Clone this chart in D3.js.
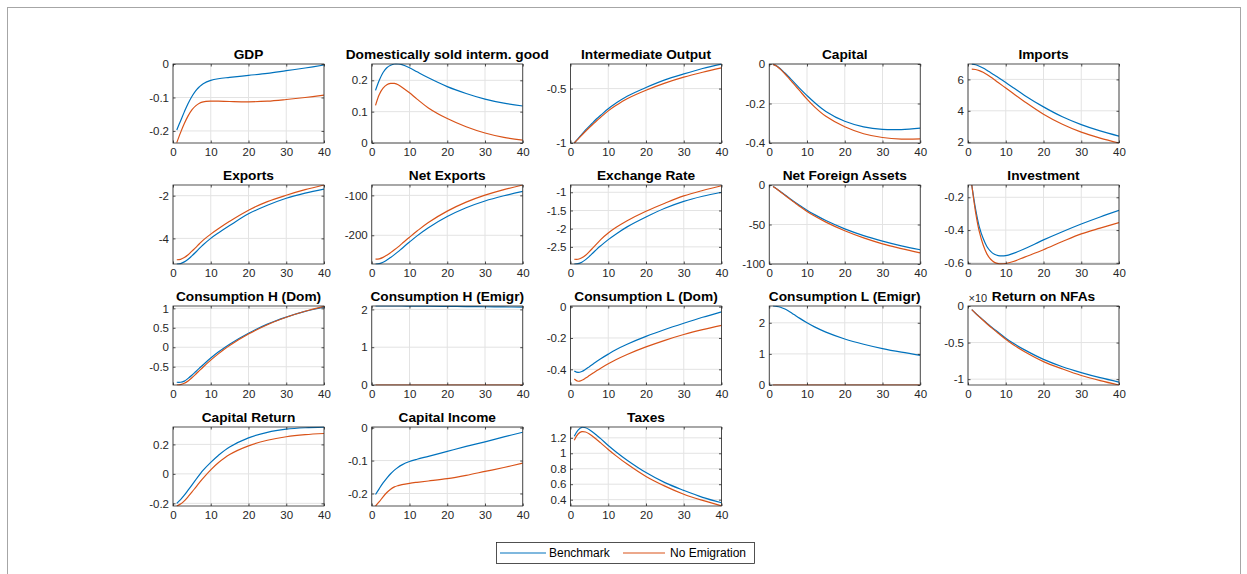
<!DOCTYPE html>
<html>
<head>
<meta charset="utf-8">
<script src="https://cdn.jsdelivr.net/npm/d3@7"></script>
<style>
  html, body { margin: 0; padding: 0; background: #fff; }
  svg { display: block; font-family: "Liberation Sans", Arial, Helvetica, sans-serif; }
</style>
</head>
<body>
<svg id="chart" width="1247" height="574"></svg>
<script>
// Impulse responses over 40 quarters: benchmark vs. no-emigration scenario
const periods = [1, 2, 3, 4, 5, 6, 7, 8, 10, 12, 15, 20, 25, 30, 35, 40];
const xTicks = [0, 10, 20, 30, 40];
const seriesNames = ["Benchmark", "No Emigration"];

const titles = [
  "GDP", "Domestically sold interm. good", "Intermediate Output", "Capital", "Imports",
  "Exports", "Net Exports", "Exchange Rate", "Net Foreign Assets", "Investment",
  "Consumption H (Dom)", "Consumption H (Emigr)", "Consumption L (Dom)", "Consumption L (Emigr)", "Return on NFAs",
  "Capital Return", "Capital Income", "Taxes"
];

const gdpBench   = [-0.197, -0.17, -0.143, -0.118, -0.097, -0.08, -0.068, -0.059, -0.049, -0.044, -0.04, -0.034, -0.028, -0.02, -0.012, -0.003];
const gdpNoEmig  = [-0.235, -0.205, -0.178, -0.155, -0.137, -0.125, -0.117, -0.113, -0.111, -0.111, -0.112, -0.113, -0.111, -0.106, -0.1, -0.093];
const dsigBench  = [0.168, 0.2, 0.225, 0.24, 0.248, 0.252, 0.252, 0.25, 0.24, 0.227, 0.208, 0.18, 0.158, 0.14, 0.127, 0.118];
const dsigNoEmig = [0.12, 0.155, 0.175, 0.186, 0.19, 0.19, 0.186, 0.178, 0.16, 0.14, 0.112, 0.078, 0.052, 0.032, 0.018, 0.009];
const ioBench    = [-1.0, -0.96, -0.92, -0.88, -0.845, -0.81, -0.775, -0.745, -0.685, -0.635, -0.57, -0.49, -0.42, -0.365, -0.315, -0.275];
const ioNoEmig   = [-1.0, -0.965, -0.928, -0.892, -0.858, -0.825, -0.793, -0.763, -0.705, -0.656, -0.593, -0.515, -0.45, -0.395, -0.35, -0.31];
const capBench   = [-0.002, -0.01, -0.025, -0.043, -0.062, -0.082, -0.102, -0.122, -0.16, -0.195, -0.24, -0.29, -0.318, -0.331, -0.332, -0.325];
const capNoEmig  = [-0.002, -0.011, -0.027, -0.047, -0.068, -0.09, -0.112, -0.134, -0.178, -0.217, -0.265, -0.318, -0.353, -0.372, -0.38, -0.379];
const impBench   = [6.97, 6.93, 6.84, 6.72, 6.58, 6.43, 6.28, 6.12, 5.8, 5.47, 4.98, 4.25, 3.62, 3.12, 2.72, 2.39];
const impNoEmig  = [6.65, 6.63, 6.56, 6.45, 6.31, 6.15, 5.98, 5.8, 5.45, 5.1, 4.58, 3.78, 3.14, 2.64, 2.26, 1.95];

const expBench   = [-5.2, -5.18, -5.1, -4.98, -4.82, -4.65, -4.47, -4.3, -4.0, -3.75, -3.4, -2.85, -2.45, -2.12, -1.88, -1.69];
const expNoEmig  = [-5.0, -4.98, -4.9, -4.77, -4.6, -4.43, -4.25, -4.08, -3.8, -3.55, -3.2, -2.68, -2.28, -1.98, -1.72, -1.5];
const nxBench    = [-272, -271, -267.5, -262, -255.5, -248.5, -241, -233, -217, -201.5, -181, -153, -131, -114, -101, -90];
const nxNoEmig   = [-260, -259, -255.5, -250, -243.5, -236.5, -229, -221, -205, -189.5, -168, -139.5, -117, -99.5, -85.5, -74];
const erBench    = [-2.97, -2.96, -2.92, -2.85, -2.76, -2.66, -2.56, -2.47, -2.3, -2.15, -1.95, -1.68, -1.44, -1.25, -1.11, -1.0];
const erNoEmig   = [-2.84, -2.84, -2.8, -2.73, -2.63, -2.52, -2.41, -2.3, -2.12, -1.97, -1.78, -1.52, -1.3, -1.1, -0.95, -0.82];
const nfaBench   = [-2, -5, -8.5, -12, -15.5, -19, -22.5, -25.5, -32, -37.5, -45, -55.5, -64, -71, -77, -82];
const nfaNoEmig  = [-2, -5.2, -8.8, -12.5, -16.2, -19.8, -23.4, -26.8, -33.5, -39.3, -47, -58, -67, -74.5, -80.5, -86];
const invBench   = [-0.125, -0.27, -0.38, -0.45, -0.5, -0.53, -0.548, -0.556, -0.556, -0.542, -0.514, -0.46, -0.41, -0.363, -0.32, -0.28];
const invNoEmig  = [-0.125, -0.29, -0.41, -0.49, -0.545, -0.578, -0.597, -0.605, -0.604, -0.592, -0.565, -0.52, -0.47, -0.423, -0.388, -0.355];

const chdBench   = [-0.9, -0.9, -0.87, -0.8, -0.72, -0.63, -0.538, -0.448, -0.278, -0.124, 0.08, 0.36, 0.595, 0.775, 0.92, 1.03];
const chdNoEmig  = [-0.97, -0.96, -0.925, -0.865, -0.785, -0.695, -0.6, -0.506, -0.33, -0.17, 0.045, 0.34, 0.58, 0.77, 0.925, 1.05];
const cheBench   = [2.09, 2.09, 2.09, 2.09, 2.09, 2.09, 2.09, 2.09, 2.088, 2.087, 2.085, 2.08, 2.075, 2.07, 2.065, 2.06];
const cheNoEmig  = [0, 0, 0, 0, 0, 0, 0, 0, 0, 0, 0, 0, 0, 0, 0, 0];
const cldBench   = [-0.41, -0.42, -0.414, -0.4, -0.383, -0.366, -0.349, -0.333, -0.303, -0.275, -0.24, -0.19, -0.146, -0.106, -0.068, -0.033];
const cldNoEmig  = [-0.462, -0.476, -0.47, -0.456, -0.44, -0.424, -0.408, -0.393, -0.365, -0.339, -0.305, -0.257, -0.215, -0.178, -0.147, -0.12];
const cleBench   = [2.54, 2.53, 2.5, 2.45, 2.385, 2.31, 2.23, 2.15, 2.0, 1.868, 1.7, 1.48, 1.31, 1.17, 1.055, 0.955];
const cleNoEmig  = [0, 0, 0, 0, 0, 0, 0, 0, 0, 0, 0, 0, 0, 0, 0, 0];
const rnfaBench  = [-0.05, -0.1, -0.145, -0.19, -0.235, -0.28, -0.32, -0.36, -0.44, -0.51, -0.6, -0.73, -0.83, -0.91, -0.98, -1.04];
const rnfaNoEmig = [-0.05, -0.1, -0.148, -0.195, -0.242, -0.288, -0.33, -0.372, -0.455, -0.53, -0.625, -0.76, -0.86, -0.95, -1.02, -1.08];

const crBench    = [-0.2, -0.175, -0.145, -0.111, -0.076, -0.041, -0.007, 0.025, 0.078, 0.125, 0.182, 0.244, 0.282, 0.303, 0.313, 0.317];
const crNoEmig   = [-0.218, -0.205, -0.183, -0.155, -0.124, -0.092, -0.06, -0.029, 0.027, 0.075, 0.131, 0.19, 0.228, 0.252, 0.266, 0.274];
const ciBench    = [-0.203, -0.185, -0.168, -0.153, -0.14, -0.129, -0.12, -0.113, -0.103, -0.096, -0.087, -0.072, -0.057, -0.043, -0.028, -0.014];
const ciNoEmig   = [-0.238, -0.225, -0.21, -0.197, -0.187, -0.18, -0.176, -0.173, -0.169, -0.166, -0.162, -0.155, -0.145, -0.133, -0.121, -0.108];
const taxBench   = [1.22, 1.3, 1.335, 1.33, 1.305, 1.27, 1.23, 1.19, 1.1, 1.02, 0.91, 0.75, 0.62, 0.52, 0.43, 0.36];
const taxNoEmig  = [1.17, 1.25, 1.28, 1.275, 1.25, 1.215, 1.175, 1.135, 1.05, 0.97, 0.86, 0.7, 0.575, 0.47, 0.39, 0.32];

const benchSeries = [gdpBench, dsigBench, ioBench, capBench, impBench, expBench, nxBench, erBench, nfaBench, invBench,
  chdBench, cheBench, cldBench, cleBench, rnfaBench, crBench, ciBench, taxBench];
const noEmigSeries = [gdpNoEmig, dsigNoEmig, ioNoEmig, capNoEmig, impNoEmig, expNoEmig, nxNoEmig, erNoEmig, nfaNoEmig, invNoEmig,
  chdNoEmig, cheNoEmig, cldNoEmig, cleNoEmig, rnfaNoEmig, crNoEmig, ciNoEmig, taxNoEmig];

const yLimits = [
  [-0.236, 0], [0, 0.252], [-1, -0.274], [-0.4, 0], [1.95, 6.98],
  [-5.2, -1.5], [-272, -74], [-2.97, -0.8], [-100, 0], [-0.607, -0.125],
  [-0.97, 1.06], [0, 2.09], [-0.5, 0.004], [0, 2.54], [-1.08, 0],
  [-0.218, 0.318], [-0.238, 0.002], [0.318, 1.34]
];
const yTickValues = [
  [-0.2, -0.1, 0], [0, 0.1, 0.2], [-1, -0.5], [-0.4, -0.2, 0], [2, 4, 6],
  [-4, -2], [-200, -100], [-2.5, -2, -1.5, -1], [-100, -50, 0], [-0.6, -0.4, -0.2],
  [-0.5, 0, 0.5, 1], [0, 1, 2], [-0.4, -0.2, 0], [0, 1, 2], [-1, -0.5, 0],
  [-0.2, 0, 0.2], [-0.2, -0.1, 0], [0.4, 0.6, 0.8, 1, 1.2]
];
// panel index carrying a scale exponent label above its y axis
const exponentPanel = 14;
const exponentText = "\u00d710";

// ---- layout ----
const colors = ["#0072BD", "#D95319"];
const axisColor = "#262626";
const gridColor = "#e3e3e3";
const nCols = 5;
const plotW = 151, plotH = 79;
const left0 = 173, colStep = 198.75;
const top0 = 64, rowStep = 121;

const svg = d3.select("#chart");
const defs = svg.append("defs");
defs.append("clipPath").attr("id", "plot-clip")
  .append("rect").attr("x", 0).attr("y", -0.5).attr("width", plotW).attr("height", plotH + 1);

// figure frame
svg.append("rect")
  .attr("x", 7.5).attr("y", 7.5)
  .attr("width", 1233).attr("height", 600)
  .attr("fill", "none").attr("stroke", "#a6a6a6").attr("stroke-width", 1);

const x = d3.scaleLinear().domain([0, 40]).range([0, plotW]);
const fmt = d => String(d);

titles.forEach((title, i) => {
  const col = i % nCols, row = Math.floor(i / nCols);
  const g = svg.append("g")
    .attr("transform", `translate(${left0 + col * colStep},${top0 + row * rowStep})`);

  const y = d3.scaleLinear().domain(yLimits[i]).range([plotH, 0]);

  // grid
  g.append("g").selectAll("line").data(xTicks).join("line")
    .attr("x1", d => x(d)).attr("x2", d => x(d))
    .attr("y1", 0).attr("y2", plotH)
    .attr("stroke", gridColor).attr("stroke-width", 1);
  g.append("g").selectAll("line").data(yTickValues[i]).join("line")
    .attr("x1", 0).attr("x2", plotW)
    .attr("y1", d => y(d)).attr("y2", d => y(d))
    .attr("stroke", gridColor).attr("stroke-width", 1);

  // series lines
  const line = d3.line()
    .x((d, k) => x(periods[k]))
    .y(d => y(d))
    .curve(d3.curveCatmullRom.alpha(0.5));
  const lines = g.append("g").attr("clip-path", "url(#plot-clip)");
  [benchSeries[i], noEmigSeries[i]].forEach((vals, s) => {
    lines.append("path")
      .datum(vals)
      .attr("d", line)
      .attr("fill", "none")
      .attr("stroke", colors[s])
      .attr("stroke-width", 1.2);
  });

  // axes with inward ticks on all four sides
  const styleAxis = sel => {
    sel.select(".domain").remove();
    sel.selectAll(".tick line").attr("stroke", axisColor).attr("stroke-width", 0.8);
    sel.selectAll(".tick text").attr("fill", axisColor)
      .style("font-size", "11.5px")
      .style("font-family", '"Liberation Sans", Arial, sans-serif');
  };
  g.append("g").attr("transform", `translate(0,${plotH})`)
    .call(d3.axisBottom(x).tickValues(xTicks).tickSize(-2.5).tickPadding(5).tickFormat(fmt))
    .call(styleAxis);
  g.append("g")
    .call(d3.axisTop(x).tickValues(xTicks).tickSize(-2.5).tickFormat(""))
    .call(styleAxis);
  g.append("g")
    .call(d3.axisLeft(y).tickValues(yTickValues[i]).tickSize(-2.5).tickPadding(4).tickFormat(fmt))
    .call(styleAxis);
  g.append("g").attr("transform", `translate(${plotW},0)`)
    .call(d3.axisRight(y).tickValues(yTickValues[i]).tickSize(-2.5).tickFormat(""))
    .call(styleAxis);

  // box
  g.append("rect")
    .attr("x", 0).attr("y", 0).attr("width", plotW).attr("height", plotH)
    .attr("fill", "none").attr("stroke", axisColor).attr("stroke-width", 0.8);

  if (i === exponentPanel) {
    g.append("text")
      .attr("x", 0.5).attr("y", -4)
      .attr("fill", axisColor)
      .style("font-size", "11px")
      .text(exponentText);
  }

  // title
  g.append("text")
    .attr("x", plotW / 2).attr("y", -5.5)
    .attr("text-anchor", "middle")
    .attr("fill", "#000")
    .style("font-size", "13.7px")
    .style("font-weight", "bold")
    .text(title);
});

// legend
const legend = svg.append("g").attr("transform", "translate(496,542)");
legend.append("rect")
  .attr("x", 0.5).attr("y", 0.5).attr("width", 258).attr("height", 21)
  .attr("fill", "#fff").attr("stroke", axisColor).attr("stroke-width", 0.8);
const legendItems = [{ x0: 4, x1: 50, tx: 53 }, { x0: 127, x1: 169, tx: 174 }];
seriesNames.forEach((name, s) => {
  const it = legendItems[s];
  legend.append("line")
    .attr("x1", it.x0).attr("x2", it.x1).attr("y1", 11).attr("y2", 11)
    .attr("stroke", colors[s]).attr("stroke-width", 1.2);
  legend.append("text")
    .attr("x", it.tx).attr("y", 15.3)
    .attr("fill", "#000")
    .style("font-size", "12px")
    .text(name);
});
</script>
</body>
</html>
